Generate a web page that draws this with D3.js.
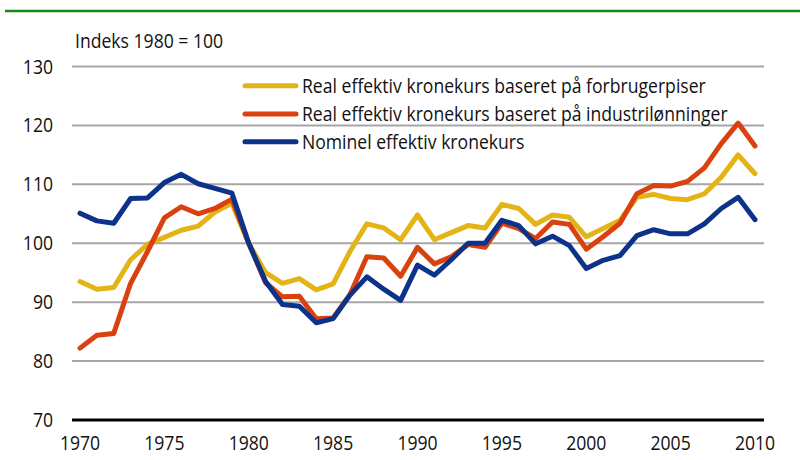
<!DOCTYPE html>
<html>
<head>
<meta charset="utf-8">
<script src="https://cdn.jsdelivr.net/npm/d3@7"></script>
<style>
  body { margin: 0; background: #fff; }
  svg { display: block; font-family: "Open Sans", "Noto Sans", sans-serif; }
</style>
</head>
<body>
<div id="chart"></div>
<script>
// Years on the x axis
const years = d3.range(1970, 2011);

// Real effektiv kronekurs baseret på forbrugerpriser
const realForbruger = [93.5, 92.2, 92.5, 97.2, 99.8, 101.0, 102.2, 102.9, 105.3, 106.8,
  100, 95.0, 93.2, 94.0, 92.1, 93.1, 98.6, 103.3, 102.6, 100.6,
  104.8, 100.6, 101.8, 103.0, 102.6, 106.6, 105.9, 103.2, 104.8, 104.4,
  101.1, 102.5, 103.9, 107.8, 108.3, 107.6, 107.4, 108.4, 111.2, 115.0, 111.8];

// Real effektiv kronekurs baseret på industrilønninger
const realIndustri = [82.2, 84.4, 84.7, 93.2, 98.6, 104.3, 106.2, 105.0, 105.9, 107.5,
  100, 93.3, 90.9, 91.0, 87.2, 87.3, 91.3, 97.7, 97.5, 94.4,
  99.3, 96.5, 97.7, 99.8, 99.3, 103.4, 102.5, 100.8, 103.6, 103.2,
  99.0, 101.1, 103.4, 108.4, 109.8, 109.7, 110.5, 112.8, 116.9, 120.4, 116.5];

// Nominel effektiv kronekurs
const nominel = [105.1, 103.8, 103.4, 107.6, 107.7, 110.3, 111.7, 110.1, 109.3, 108.5,
  100, 93.5, 89.6, 89.3, 86.5, 87.2, 91.2, 94.3, 92.2, 90.3,
  96.3, 94.6, 97.2, 100.0, 100.0, 103.9, 103.0, 99.9, 101.2, 99.6,
  95.7, 97.1, 97.9, 101.3, 102.3, 101.6, 101.6, 103.3, 105.9, 107.8, 104.0];

const seriesNames = [
  "Real effektiv kronekurs baseret på forbrugerpiser",
  "Real effektiv kronekurs baseret på industrilønninger",
  "Nominel effektiv kronekurs"
];
const seriesColors = ["#e4b316", "#da4110", "#0c3389"];

const yTicks = [70, 80, 90, 100, 110, 120, 130];
const xTicks = [1970, 1975, 1980, 1985, 1990, 1995, 2000, 2005, 2010];

const width = 800, height = 460;
const svg = d3.select('#chart').append('svg')
  .attr('width', width)
  .attr('height', height);

// Text is slightly condensed to look like the original narrow font
const squeeze = 0.88;
function label(sel, px, py) {
  return sel.attr('transform', (d, i) => `translate(${px(d, i)}, ${py(d, i)}) scale(${squeeze}, 1)`)
    .style('font-size', '20px')
    .attr('fill', '#111');
}

// Green rule at the top
svg.append('line')
  .attr('x1', 5).attr('x2', 800)
  .attr('y1', 11).attr('y2', 11)
  .attr('stroke', '#168a16')
  .attr('stroke-width', 2.5);

const x = d3.scaleLinear().domain([1970, 2010]).range([80, 755]);
const y = d3.scaleLinear().domain([70, 130]).range([420, 66.5]);

const gridLeft = 72, gridRight = 764;

// Gridlines
svg.append('g')
  .selectAll('line')
  .data(yTicks.filter(d => d > 70))
  .enter().append('line')
  .attr('x1', gridLeft).attr('x2', gridRight)
  .attr('y1', d => y(d)).attr('y2', d => y(d))
  .attr('stroke', '#a6a6a6')
  .attr('stroke-width', 2);

// Y tick labels
svg.append('g')
  .selectAll('text')
  .data(yTicks)
  .enter().append('text')
  .attr('text-anchor', 'end')
  .call(label, () => 53, d => y(d) + 7)
  .text(d => d);

// Bottom axis line
svg.append('line')
  .attr('x1', gridLeft).attr('x2', gridRight)
  .attr('y1', y(70)).attr('y2', y(70))
  .attr('stroke', '#000')
  .attr('stroke-width', 3);

// X tick labels
svg.append('g')
  .selectAll('text')
  .data(xTicks)
  .enter().append('text')
  .attr('text-anchor', 'middle')
  .call(label, d => x(d), () => 450)
  .text(d => d);

// Unit label
svg.append('g').selectAll('text')
  .data(['Indeks 1980 = 100'])
  .enter().append('text')
  .call(label, () => 75, () => 48)
  .text(d => d);

// Lines
const line = d3.line()
  .x((d, i) => x(years[i]))
  .y(d => y(d));

const allSeries = [realForbruger, realIndustri, nominel];
svg.append('g')
  .selectAll('path')
  .data(allSeries)
  .enter().append('path')
  .attr('d', d => line(d))
  .attr('fill', 'none')
  .attr('stroke', (d, i) => seriesColors[i])
  .attr('stroke-width', 5)
  .attr('stroke-linejoin', 'round')
  .attr('stroke-linecap', 'round');

// Legend
const legendY = [85.7, 114, 141.7];
const legend = svg.append('g')
  .selectAll('g')
  .data(seriesNames)
  .enter().append('g')
  .attr('transform', (d, i) => `translate(0, ${legendY[i]})`);

legend.append('line')
  .attr('x1', 245).attr('x2', 296)
  .attr('y1', 0).attr('y2', 0)
  .attr('stroke', (d, i) => seriesColors[i])
  .attr('stroke-width', 5)
  .attr('stroke-linecap', 'round');

legend.append('text')
  .call(label, () => 302, () => 7)
  .text(d => d);
</script>
</body>
</html>
